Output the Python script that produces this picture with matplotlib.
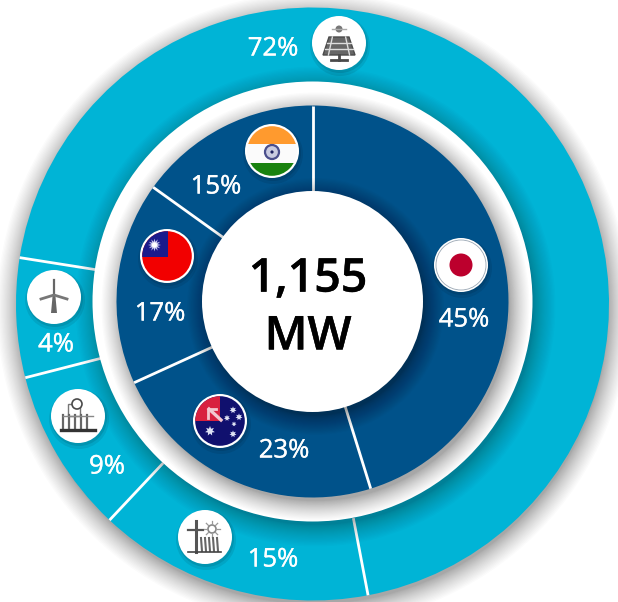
#!/usr/bin/env python3
"""Two-ring donut: capacity share by technology (outer) and country (inner)."""

import matplotlib
matplotlib.use("Agg")
import matplotlib.patheffects as pe
import matplotlib.pyplot as plt
import numpy as np
from matplotlib.patches import Circle, Polygon, Rectangle

# Arc sizes as drawn in the picture; the printed 4% slice is drawn wider than 4%.
tech_names = ["Solar", "Solar + storage", "Storage", "Wind"]
tech_arcs = [69.5, 15, 9, 6.5]
tech_labels = ["72%", "15%", "9%", "4%"]

country_names = ["Japan", "Australia", "Taiwan", "India"]
country_arcs = [45.2, 23, 16.7, 15.1]
country_labels = ["45%", "23%", "17%", "15%"]

center_text = "1,155\nMW"

CYAN = "#00B4D6"
NAVY = "#00528A"
CX, CY = 312.5, 301.5
OUTER_CY = 304
R_OUTER, R_GAP, R_PIE, R_HOLE = 296.5, 220, 196, 110.5
ICON_R = 27
GREY = "#4a4a4a"

plt.rcParams["font.family"] = ["Open Sans", "Noto Sans", "DejaVu Sans"]

fig = plt.figure(figsize=(6.18, 6.02), dpi=100)
ax = fig.add_axes([0, 0, 1, 1])


def shadow(r, cy, z, dx=3, dy=5, spread=20, peak=0.4, n=24):
    # stacked translucent discs, densest near the edge, so the falloff is soft
    for i in range(n):
        rr = r + spread * (1 - i / n) ** 1.5 - 2
        ax.add_patch(Circle((CX + dx, cy + dy), rr, fc="black", ec="none", alpha=peak / n, zorder=z))


def separators(arcs, start, r0, r1, cy, z):
    # start is degrees clockwise from 12 o'clock
    edges = start + np.cumsum([0] + list(arcs[:-1])) * 3.6
    for deg in edges:
        a = np.radians(deg)
        ax.plot([CX + r0 * np.sin(a), CX + r1 * np.sin(a)],
                [cy - r0 * np.cos(a), cy - r1 * np.cos(a)],
                color="white", lw=2.0, solid_capstyle="butt", zorder=z)


def icon_disc(x, y, z=20):
    ax.add_patch(Circle((x + 1, y + 3), ICON_R + 3, fc="black", ec="none", alpha=0.08, zorder=z))
    ax.add_patch(Circle((x + 1, y + 2), ICON_R + 1, fc="black", ec="none", alpha=0.10, zorder=z))
    disc = Circle((x, y), ICON_R, fc="white", ec="none", zorder=z + 1)
    ax.add_patch(disc)


def flag_clip(x, y, z=22):
    clip = Circle((x, y), ICON_R - 2.2, transform=ax.transData)
    def add(p):
        p.set_zorder(z)
        ax.add_patch(p)
        p.set_clip_path(clip)
        return p
    return add


def star(x, y, r, color="white", z=23, pts=7):
    ang = np.linspace(0, 2 * np.pi, pts * 2, endpoint=False) - np.pi / 2
    rad = np.where(np.arange(pts * 2) % 2 == 0, r, r * 0.5)
    ax.add_patch(Polygon(np.c_[x + rad * np.cos(ang), y + rad * np.sin(ang)],
                         fc=color, ec="none", zorder=z))


def flag_japan(x, y):
    icon_disc(x, y)
    ax.add_patch(Circle((x, y), 25, fc="white", ec="#9aa7b4", lw=0.6, zorder=22))
    ax.add_patch(Circle((x, y), 11.5, fc="#BC002D", ec="none", zorder=23))


def flag_india(x, y):
    icon_disc(x, y)
    add = flag_clip(x, y)
    add(Rectangle((x - 27, y - 27), 54, 19.5, fc="#FF9A2E", ec="none"))
    add(Rectangle((x - 27, y - 7.5), 54, 19, fc="#FBFBFB", ec="none"))
    add(Rectangle((x - 27, y + 11.5), 54, 16, fc="#19820F", ec="none"))
    ax.add_patch(Circle((x, y + 1), 7, fc="#c9cbe0", ec="#4b4f8c", lw=1.6, zorder=23))
    ax.add_patch(Circle((x, y + 1), 1.6, fc="#1c2060", ec="none", zorder=24))


def flag_taiwan(x, y):
    icon_disc(x, y)
    add = flag_clip(x, y)
    add(Rectangle((x - 27, y - 27), 54, 54, fc="#F20000", ec="none"))
    add(Rectangle((x - 27, y - 27), 28, 28, fc="#1A1A8C", ec="none"))
    star(x - 12.5, y - 11, 6.5, color="#c9c9ec", pts=12)
    ax.add_patch(Circle((x - 12.5, y - 11), 2.6, fc="white", ec="none", zorder=24))


def flag_australia(x, y):
    icon_disc(x, y)
    add = flag_clip(x, y)
    add(Rectangle((x - 27, y - 27), 54, 54, fc="#10106E", ec="none"))
    add(Rectangle((x - 27, y - 27), 27, 27, fc="#D8203F", ec="none"))
    ax.plot([x - 11, x + 1], [y - 12, y - 1], color="#f2c6cf", lw=2.4, zorder=23,
            clip_path=Circle((x, y), 25, transform=ax.transData))
    ax.plot([x - 12, x - 12, x - 4], [y - 3, y - 12, y - 12], color="#f2c6cf", lw=2.0, zorder=23)
    for dx, dy, r in [(-10, 10, 5), (13, -11, 3.6), (19, -4, 3.6), (7, -3, 3.2), (14, 3, 2.6), (13, 13, 3.6)]:
        star(x + dx, y + dy, r, color="#dfe3f5")


def icon_solar(x, y):
    icon_disc(x, y)
    z = 23
    ax.add_patch(Polygon([(x - 10, y - 6), (x + 10, y - 6), (x + 16, y + 12), (x - 16, y + 12)],
                         fc="#666666", ec=GREY, lw=1, zorder=z))
    for f in (-0.33, 0.33):
        ax.plot([x + f * 20, x + f * 32], [y - 6, y + 12], color="#dddddd", lw=1, zorder=z + 1)
    for t in (0.33, 0.66):
        hw = 10 + 6 * t
        yy = y - 6 + 18 * t
        ax.plot([x - hw, x + hw], [yy, yy], color="#dddddd", lw=1, zorder=z + 1)
    ax.plot([x, x], [y + 12, y + 17], color=GREY, lw=2, zorder=z)
    ax.plot([x - 8, x + 8], [y + 17, y + 17], color=GREY, lw=2, zorder=z)
    ax.add_patch(Circle((x, y - 14), 3.5, fc="#777777", ec="none", zorder=z))
    ax.plot([x - 7, x + 7], [y - 14, y - 14], color="#aaaaaa", lw=1, zorder=z)


def icon_wind(x, y):
    icon_disc(x, y)
    z = 23
    ax.plot([x, x], [y - 17, y + 1], color="#666666", lw=1.6, zorder=z)
    ax.plot([x - 13, x, x + 13], [y + 2, y - 2, y + 2], color="#777777", lw=2, zorder=z)
    ax.add_patch(Polygon([(x - 1.5, y), (x + 1.5, y), (x + 3, y + 16), (x - 3, y + 16)],
                         fc="#666666", ec="none", zorder=z))


def icon_storage(x, y):
    icon_disc(x, y)
    z = 23
    ax.add_patch(Rectangle((x - 10, y - 12), 12, 12, fc="none", ec="#777777", lw=1, zorder=z))
    ax.add_patch(Circle((x - 1, y - 12), 5, fc="white", ec=GREY, lw=1.2, zorder=z + 1))
    for dx in (-15, -9, -3, 3, 9):
        ax.plot([x + dx, x + dx], [y - 1, y + 13], color="#666666", lw=1.6, zorder=z)
    ax.plot([x - 15, x + 15], [y, y], color="#888888", lw=1, zorder=z)
    ax.plot([x - 17, x + 17], [y + 14, y + 14], color="#333333", lw=2.4, zorder=z)


def icon_hybrid(x, y):
    icon_disc(x, y)
    z = 23
    ax.plot([x - 9, x - 9], [y - 16, y + 15], color="#555555", lw=2.2, zorder=z)
    ax.plot([x - 17, x - 2], [y - 7, y - 7], color="#555555", lw=1.6, zorder=z)
    ax.add_patch(Circle((x + 7, y - 8), 4, fc="white", ec="#888888", lw=1.2, zorder=z))
    for a in np.radians(np.arange(0, 360, 45)):
        ax.plot([x + 7 + 5 * np.cos(a), x + 7 + 8 * np.cos(a)],
                [y - 8 + 5 * np.sin(a), y - 8 + 8 * np.sin(a)], color="#999999", lw=0.9, zorder=z)
    for dx in (-4, 0, 4, 8, 12):
        ax.plot([x + dx, x + dx + 1], [y + 1, y + 14], color="#666666", lw=1.5, zorder=z)
    ax.plot([x - 17, x + 16], [y + 15, y + 15], color="#444444", lw=1.2, zorder=z)


# rings, back to front
shadow(R_OUTER, OUTER_CY, 1, dx=1, dy=5, spread=22, peak=0.34)
ax.pie(tech_arcs, radius=R_OUTER, center=(CX, OUTER_CY), startangle=-90 + 279, colors=[CYAN] * 4,
       normalize=True, wedgeprops={"zorder": 2, "linewidth": 0})
separators(tech_arcs, 279, R_GAP - 2, R_OUTER, OUTER_CY, 3)

shadow(R_GAP, CY, 4, dx=3, dy=5, spread=22, peak=0.30)
ax.add_patch(Circle((CX, CY), R_GAP, fc="white", ec="none", zorder=5))

shadow(R_PIE, CY, 6, dx=3, dy=5, spread=20, peak=0.36)
ax.pie(country_arcs, radius=R_PIE, center=(CX, CY), startangle=-90, colors=[NAVY] * 4,
       normalize=True, wedgeprops={"zorder": 7, "linewidth": 0})
separators(country_arcs, 0, R_HOLE - 2, R_PIE, CY, 8)

shadow(R_HOLE, CY, 9, dx=3, dy=5, spread=20, peak=0.36)
ax.add_patch(Circle((CX, CY), R_HOLE, fc="white", ec="none", zorder=10))

ax.text(308, 308, center_text, ha="center", va="center", fontsize=33.5, fontweight=600,
        color="black", linespacing=1.3, zorder=11,
        path_effects=[pe.withStroke(linewidth=0.3, foreground="black")])

# icons and share labels
flag_japan(461, 265)
flag_australia(220, 421)
flag_taiwan(167, 256)
flag_india(272, 151)
icon_solar(339, 43)
icon_hybrid(205, 537)
icon_storage(78, 416)
icon_wind(54, 297)

tech_label_pos = [(273, 49), (273, 560), (107, 467), (56, 345)]
country_label_pos = [(464, 320), (284, 451), (160, 314), (216, 187)]
for txt, (x, y) in zip(tech_labels + country_labels, tech_label_pos + country_label_pos):
    ax.text(x, y, txt, ha="center", va="center", fontsize=18.5, color="white", zorder=30,
            path_effects=[pe.withStroke(linewidth=0.25, foreground="white")])

ax.set_xlim(0, 618)
ax.set_ylim(602, 0)
ax.set_aspect("equal")
ax.axis("off")

fig.savefig("out.png", dpi=100, facecolor="white")
